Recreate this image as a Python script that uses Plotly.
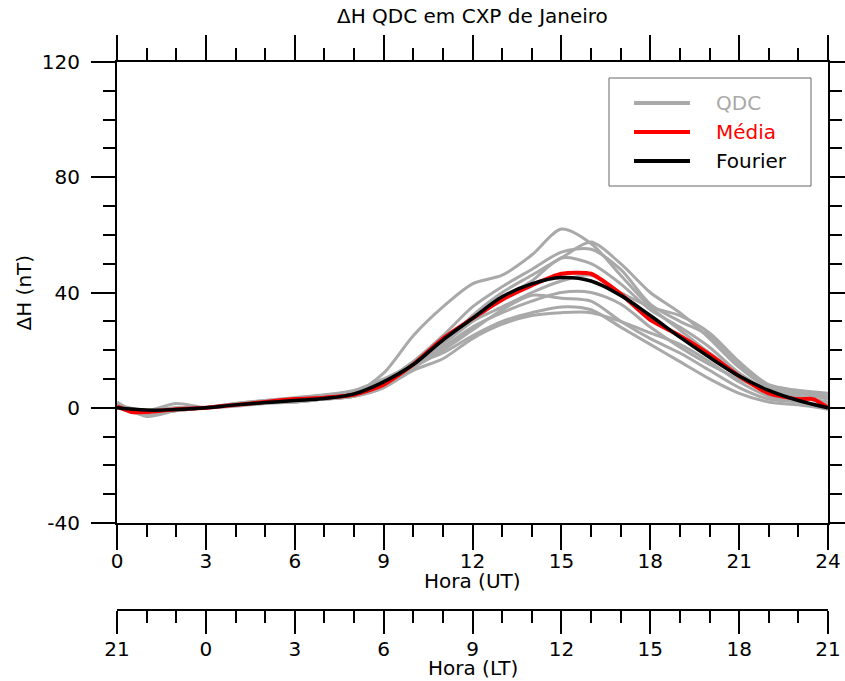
import plotly.graph_objects as go

# ---------------- data ----------------
hours_ut = list(range(0, 25))

qdc_1 = [1, -2, -1, 0, 1, 2, 2.5, 3.5, 5, 12, 25, 35, 43, 46, 53, 62, 57, 46, 35, 27, 19, 12, 6, 4, 2]
qdc_2 = [0, -1, -0.5, 0, 1, 2, 3, 4, 5, 8, 14, 22, 32, 40, 46, 52, 57.5, 50, 40, 33, 24, 14, 7, 5, 3]
qdc_3 = [0, -2.5, -1, 0, 1.5, 2.5, 3, 4, 5, 9, 16, 25, 35, 42, 48, 54, 55, 48, 36, 30, 25, 15, 7, 6, 5]
qdc_4 = [2, -3, -1, 0, 1, 2, 2, 3, 4, 7, 14, 22, 30, 38, 44, 52, 50, 43, 34, 28, 21, 12, 6, 4, 1]
qdc_5 = [0, -1, 1.5, 0, 0.5, 1.5, 2, 3, 4, 8, 15, 21, 28, 33, 37, 40, 40, 36, 28, 21, 15, 10, 6, 5, 4]
qdc_6 = [1, -1.5, -1, 0, 1, 2, 3, 3.5, 5, 9, 14, 20, 27, 34, 39, 38, 37, 30, 24, 19, 13, 7, 3, 2, 0]
qdc_7 = [0, -1, -0.5, 0, 1.5, 2.5, 3.5, 4.5, 6, 10, 15, 19, 25, 30, 33, 35, 34, 28, 22, 16, 10, 5, 2, 1, -0.5]
qdc_8 = [1, -1, 0, 0, 1, 2, 2, 3, 4, 7, 13, 17, 24, 29, 32, 33, 33, 30, 26, 22, 16, 9, 4, 2, 0]
qdc_9 = [0, -1, 0, 0, 1, 2, 3, 4, 5, 9, 16, 23, 30, 35, 40, 44, 46, 40, 35, 32, 26, 16, 8, 6, 4]
qdc_days = [qdc_1, qdc_2, qdc_3, qdc_4, qdc_5, qdc_6, qdc_7, qdc_8, qdc_9]

media_hours = [0, 0.5, 1, 2, 3, 4, 5, 6, 7, 8, 9, 10, 11, 12, 13, 14, 15, 16, 17, 18, 19, 20, 21, 22, 23, 23.5, 24]
media = [0.5, -1.5, -1.5, -0.5, 0, 1, 2, 3, 3.5, 4.5, 8, 15, 24, 31, 37.5, 42.5, 46.5, 46.5, 39.5, 30.5, 25, 18.5, 11, 5, 3, 3, 0]

fourier = [0, -0.8, -0.6, 0, 1, 1.8, 2.5, 3.2, 4.8, 9, 15, 23.5, 31, 38.5, 43, 45.2, 44, 39, 32, 24.5, 17.5, 11, 6, 2.5, 0]

ut_ticks = [0, 3, 6, 9, 12, 15, 18, 21, 24]
ut_labels = ["0", "3", "6", "9", "12", "15", "18", "21", "24"]
lt_labels = ["21", "0", "3", "6", "9", "12", "15", "18", "21"]
y_ticks = [-40, 0, 40, 80, 120]
y_labels = ["-40", "0", "40", "80", "120"]

legend_names = ["QDC", "Média", "Fourier"]
legend_colors = ["#a9a9a9", "#ff0000", "#000000"]

# ---------------- geometry (screen pixels of the 845x681 window) ----------------
FONT = "DejaVu Sans"
FS = 20
W, H = 845, 681
X_LEFT, X_RIGHT = 117, 828   # plot box on screen
Y_TOP, Y_BOT = 62, 523
Y_LT = 610                   # second (LT) axis line on screen

L = X_LEFT
R = W - X_RIGHT
T = Y_TOP
B = H - Y_LT
plot_w = W - L - R
plot_h = H - T - B
y_dom0 = (Y_LT - Y_BOT) / plot_h


def px_x(px):
    return (px - X_LEFT) / plot_w


def px_y(py):
    return (Y_LT - py) / plot_h


fig = go.Figure()

for d in qdc_days:
    fig.add_trace(go.Scatter(x=hours_ut, y=d, mode="lines",
                             line=dict(color="#a9a9a9", width=3, shape="spline", smoothing=0.8),
                             showlegend=False, hoverinfo="skip"))

fig.add_trace(go.Scatter(x=media_hours, y=media, mode="lines",
                         line=dict(color="#ff0000", width=4, shape="spline", smoothing=0.6),
                         showlegend=False, hoverinfo="skip"))

fig.add_trace(go.Scatter(x=hours_ut, y=fourier, mode="lines",
                         line=dict(color="#000000", width=3.5, shape="spline", smoothing=1.0),
                         showlegend=False, hoverinfo="skip"))

# dummy trace to carry the LT axis
fig.add_trace(go.Scatter(x=[None], y=[None], xaxis="x2", yaxis="y",
                         showlegend=False, hoverinfo="skip"))

axis_common = dict(showgrid=False, zeroline=False, showline=True, linecolor="black",
                   linewidth=2, ticks="outside", tickcolor="black", tickwidth=2,
                   automargin=False,
                   tickfont=dict(family=FONT, size=FS, color="black"))

fig.update_layout(
    width=W, height=H,
    margin=dict(l=L, r=R, t=T, b=B, pad=0, autoexpand=False),
    paper_bgcolor="white", plot_bgcolor="white",
    font=dict(family=FONT, size=FS, color="black"),
    xaxis=dict(range=[0, 24], tickvals=ut_ticks, ticktext=ut_labels, ticklen=25, mirror="ticks",
               anchor="y", ticklabelstandoff=-6,
               minor=dict(dtick=1, tick0=0, ticklen=12, tickwidth=2, tickcolor="black", ticks="outside"),
               **axis_common),
    xaxis2=dict(range=[0, 24], tickvals=ut_ticks, ticktext=lt_labels, ticklen=23,
                overlaying="x", anchor="free", position=0, side="bottom", ticklabelstandoff=-2,
                minor=dict(dtick=1, tick0=0, ticklen=12, tickwidth=2, tickcolor="black", ticks="outside"),
                **axis_common),
    yaxis=dict(range=[-40, 120], tickvals=y_ticks, ticktext=y_labels, ticklen=24, mirror="ticks",
               domain=[y_dom0, 1], anchor="x", ticklabelstandoff=7,
               minor=dict(dtick=10, ticklen=12, tickwidth=2, tickcolor="black", ticks="outside"),
               **axis_common),
)

# ---------------- titles as text ----------------
xc = px_x((X_LEFT + X_RIGHT) / 2)
fig.add_annotation(xref="paper", yref="paper", x=xc, y=px_y(16), text="ΔH QDC em CXP de Janeiro",
                   showarrow=False, xanchor="center", yanchor="middle",
                   font=dict(family=FONT, size=FS, color="black"))
fig.add_annotation(xref="paper", yref="paper", x=xc, y=px_y(581), text="Hora (UT)",
                   showarrow=False, xanchor="center", yanchor="middle",
                   font=dict(family=FONT, size=FS, color="black"))
fig.add_annotation(xref="paper", yref="paper", x=xc, y=px_y(668), text="Hora (LT)",
                   showarrow=False, xanchor="center", yanchor="middle",
                   font=dict(family=FONT, size=FS, color="black"))
fig.add_annotation(xref="paper", yref="paper", x=px_x(23), y=px_y((Y_TOP + Y_BOT) / 2),
                   text="ΔH (nT)", textangle=-90,
                   showarrow=False, xanchor="center", yanchor="middle",
                   font=dict(family=FONT, size=FS, color="black"))

# ---------------- legend box (drawn in paper coordinates) ----------------
fig.add_shape(type="rect", xref="paper", yref="paper",
              x0=px_x(609), x1=px_x(811), y0=px_y(186), y1=px_y(78),
              line=dict(color="#666666", width=1), fillcolor="white", layer="above")
row_y = [103, 132, 161]
for name, col, ry in zip(legend_names, legend_colors, row_y):
    fig.add_shape(type="line", xref="paper", yref="paper",
                  x0=px_x(634), x1=px_x(690), y0=px_y(ry), y1=px_y(ry),
                  line=dict(color=col, width=4), layer="above")
    fig.add_annotation(xref="paper", yref="paper", x=px_x(714), y=px_y(ry),
                       text=name, showarrow=False, xanchor="left", yanchor="middle",
                       font=dict(family=FONT, size=FS, color=col))

fig.write_html("out.html",
               config={"displayModeBar": False},
               post_script="document.body.style.margin='0';"
                           "document.documentElement.style.overflow='hidden';")
